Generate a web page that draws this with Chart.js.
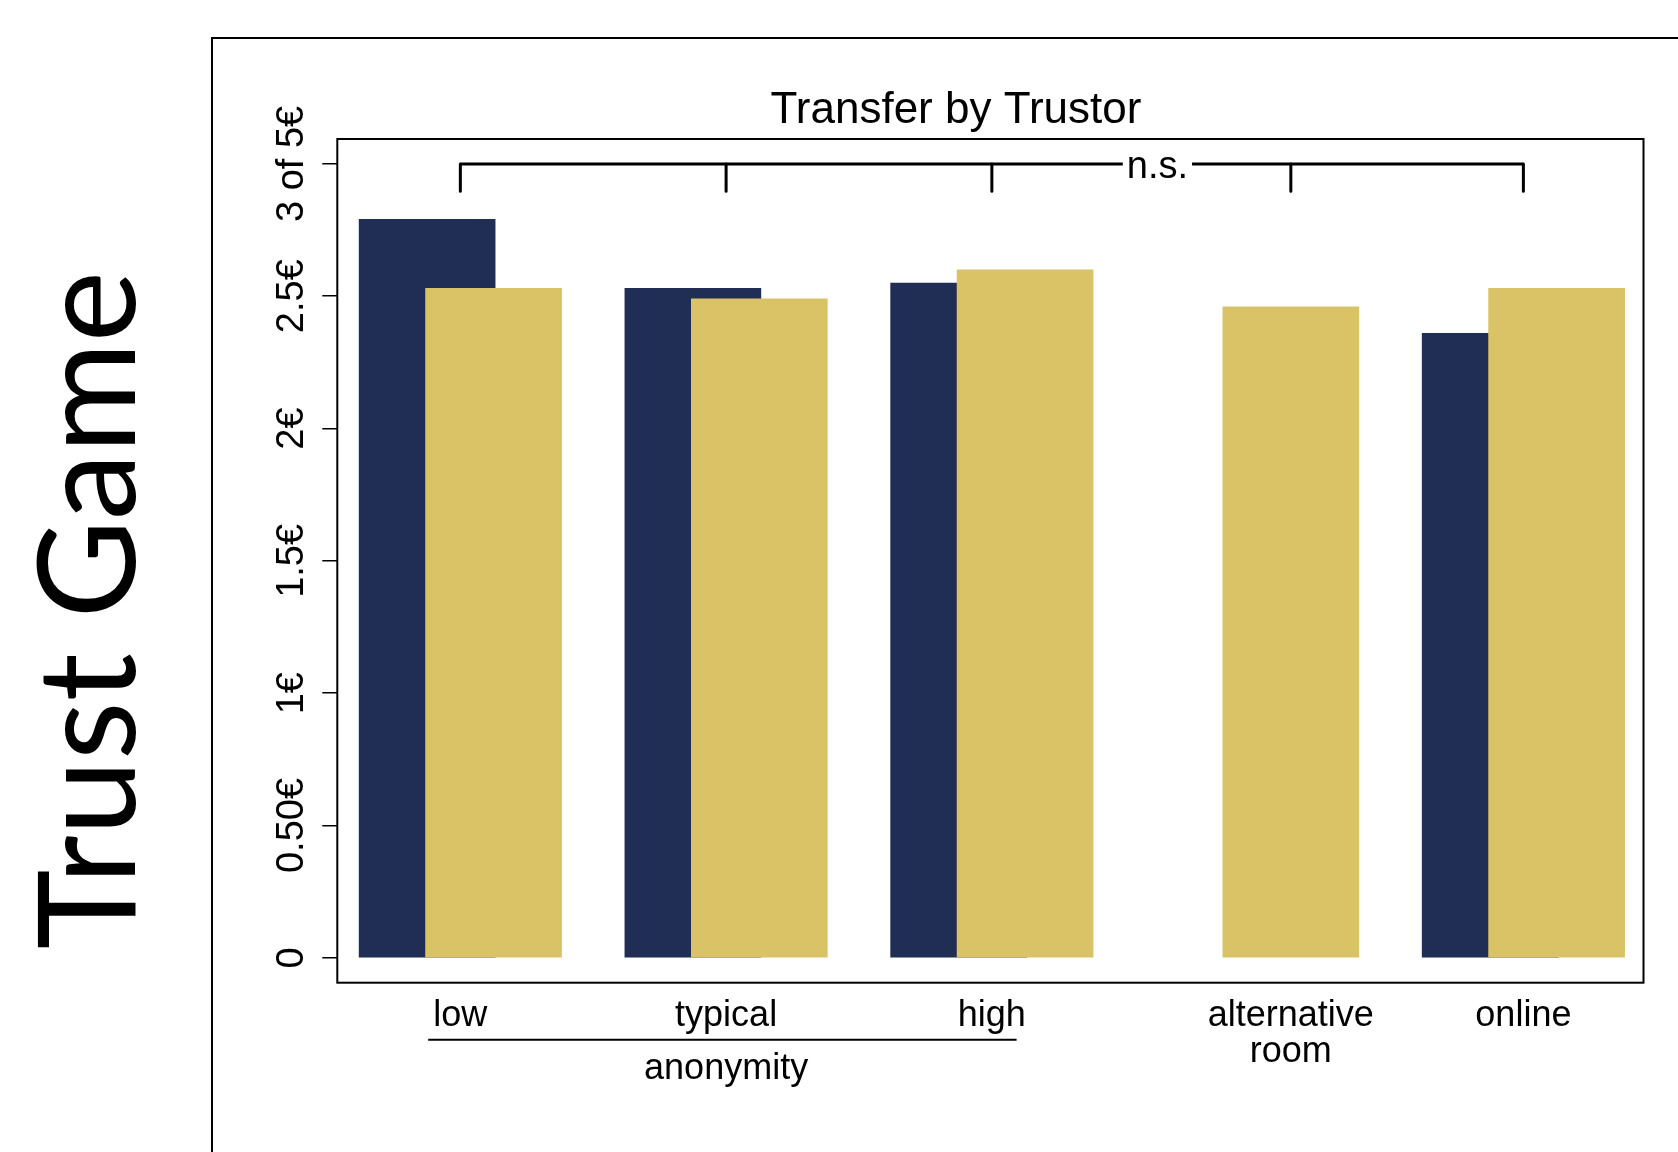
<!DOCTYPE html>
<html lang="en">
<head>
<meta charset="UTF-8">
<title>Trust Game - Transfer by Trustor</title>
<script src="https://cdn.jsdelivr.net/npm/chart.js"></script>
<style>
  html, body { margin: 0; padding: 0; background: #fff; overflow: hidden; }
  body { width: 1678px; height: 1152px; position: relative; }
  #panel { position: absolute; left: 211px; top: 37px; width: 1600px; height: 1400px; border: 2px solid #000; }
  #side { position: absolute; left: 83px; top: 610px; transform: translate(-50%, -50%) rotate(-90deg);
          font: 135px Lato, 'Open Sans', sans-serif; line-height: 1; white-space: nowrap; color: #000; }
  #chart { position: absolute; left: 0; top: 0; }
</style>
</head>
<body>
<div id="panel"></div>
<div id="side">Trust Game</div>
<canvas id="chart" width="1678" height="1152"></canvas>
<script>
// values (euros transferred, out of 5)
const categories = ['low', 'typical', 'high', ['alternative', 'room'], 'online'];
const darkSeries = [2.79, 2.53, 2.55, null, 2.36];
const lightSeries = [2.53, 2.49, 2.60, 2.46, 2.53];
const yTicks = [0, 0.5, 1, 1.5, 2, 2.5, 3];
const yTickLabels = ['0', '0.50€', '1€', '1.5€', '2€', '2.5€', '3 of 5€'];
const groupLabel = 'anonymity';
const groupMembers = [0, 1, 2];
const bracketText = 'n.s.';

const FONT = "'Liberation Sans', Arial, Helvetica, sans-serif";
const NAVY = '#202d55';
const GOLD = '#d9c366';

Chart.defaults.font.family = FONT;
Chart.defaults.color = '#000';

const idx = categories.map((c, i) => i);
const xMin = -0.463, xMax = 4.452;
// the two bars of a group are shifted by this share of the group spacing
const pairShift = 0.125;
// label sits under the light bar when the dark one is missing
const labelTicks = idx.map(i => darkSeries[i] === null ? i + pairShift : i);

const shiftedX = shift => ({
    type: 'linear', display: false, offset: false,
    min: xMin - shift, max: xMax - shift
});

const barStyle = { grouped: false, barThickness: 136, borderWidth: 0 };

const framePlugin = {
    id: 'frame',
    afterDraw(chart) {
        const { ctx, chartArea: a } = chart;
        ctx.save();
        ctx.strokeStyle = '#000';
        ctx.lineWidth = 2;
        ctx.strokeRect(a.left, a.top, a.right - a.left, a.bottom - a.top);
        ctx.restore();
    }
};

const bracketPlugin = {
    id: 'bracket',
    afterDatasetsDraw(chart, args, opts) {
        const { ctx } = chart;
        const xs = chart.scales.x, ys = chart.scales.y;
        const px = xs.ticks.map(t => xs.getPixelForValue(t.value));
        const top = ys.getPixelForValue(opts.level);
        const bottom = ys.getPixelForValue(opts.level - opts.drop);
        const tx = xs.getPixelForValue(opts.labelAt);
        ctx.save();
        ctx.font = '38px ' + FONT;
        const w = ctx.measureText(opts.text).width;
        ctx.strokeStyle = '#000';
        ctx.lineWidth = 3;
        ctx.lineCap = 'butt';
        ctx.beginPath();
        ctx.moveTo(px[0], top);
        ctx.lineTo(tx - w / 2 - 4, top);
        ctx.moveTo(tx + w / 2 + 4, top);
        ctx.lineTo(px[px.length - 1], top);
        ctx.stroke();
        ctx.lineCap = 'round';
        ctx.beginPath();
        px.forEach(p => { ctx.moveTo(p, top); ctx.lineTo(p, bottom); });
        ctx.stroke();
        ctx.fillStyle = '#000';
        ctx.textAlign = 'center';
        ctx.textBaseline = 'alphabetic';
        ctx.fillText(opts.text, tx, top + 14);
        ctx.restore();
    }
};

const groupPlugin = {
    id: 'groupLabel',
    afterDraw(chart, args, opts) {
        const { ctx } = chart;
        const xs = chart.scales.x;
        const y = xs.top + 57;
        ctx.save();
        ctx.strokeStyle = '#000';
        ctx.lineWidth = 2;
        ctx.beginPath();
        ctx.moveTo(xs.getPixelForValue(opts.span[0]), y);
        ctx.lineTo(xs.getPixelForValue(opts.span[1]), y);
        ctx.stroke();
        const mid = opts.members.reduce((s, v) => s + v, 0) / opts.members.length;
        ctx.font = '36px ' + FONT;
        ctx.fillStyle = '#000';
        ctx.textAlign = 'center';
        ctx.textBaseline = 'alphabetic';
        ctx.fillText(opts.text, xs.getPixelForValue(mid), y + 39);
        ctx.restore();
    }
};

new Chart(document.getElementById('chart'), {
    type: 'bar',
    data: {
        labels: idx,
        datasets: [
            { label: 'light', data: lightSeries, backgroundColor: GOLD, xAxisID: 'xLight', ...barStyle },
            { label: 'dark', data: darkSeries, backgroundColor: NAVY, xAxisID: 'xDark', ...barStyle }
        ]
    },
    options: {
        responsive: false,
        devicePixelRatio: 1,
        animation: false,
        layout: { padding: { left: 268.5, right: 34.5, top: 0, bottom: 59.3 } },
        plugins: {
            legend: { display: false },
            tooltip: { enabled: false },
            title: {
                display: true,
                text: 'Transfer by Trustor',
                color: '#000',
                font: { size: 44, weight: 'normal', family: FONT },
                padding: { top: 84.5, bottom: 1.7 }
            },
            bracket: { level: 3, drop: 0.103, labelAt: 2.623, text: bracketText },
            groupLabel: { span: [-0.121, 2.093], members: groupMembers, text: groupLabel }
        },
        scales: {
            x: {
                type: 'linear', position: 'bottom', min: xMin, max: xMax, offset: false,
                afterBuildTicks: s => { s.ticks = labelTicks.map(v => ({ value: v })); },
                afterFit: s => { s.height = 110; },
                grid: { display: false, drawTicks: false },
                border: { display: false },
                ticks: {
                    callback: (v, i) => categories[i],
                    autoSkip: false, maxRotation: 0, padding: 15.5, color: '#000',
                    font: { size: 36, family: FONT, lineHeight: 1 }
                }
            },
            xLight: shiftedX(pairShift),
            xDark: shiftedX(-pairShift),
            y: {
                min: -0.094, max: 3.094,
                afterBuildTicks: s => { s.ticks = yTicks.map(v => ({ value: v })); },
                afterFit: s => { s.width = 68.8; },
                grid: { drawOnChartArea: false, drawTicks: true, tickLength: 15, color: '#000', lineWidth: 1.5 },
                border: { display: false },
                ticks: {
                    callback: v => yTickLabels[yTicks.indexOf(v)],
                    minRotation: 90, maxRotation: 90, crossAlign: 'center', padding: -28,
                    color: '#000', font: { size: 38, family: FONT }
                }
            }
        }
    },
    plugins: [framePlugin, bracketPlugin, groupPlugin]
});
</script>
</body>
</html>
